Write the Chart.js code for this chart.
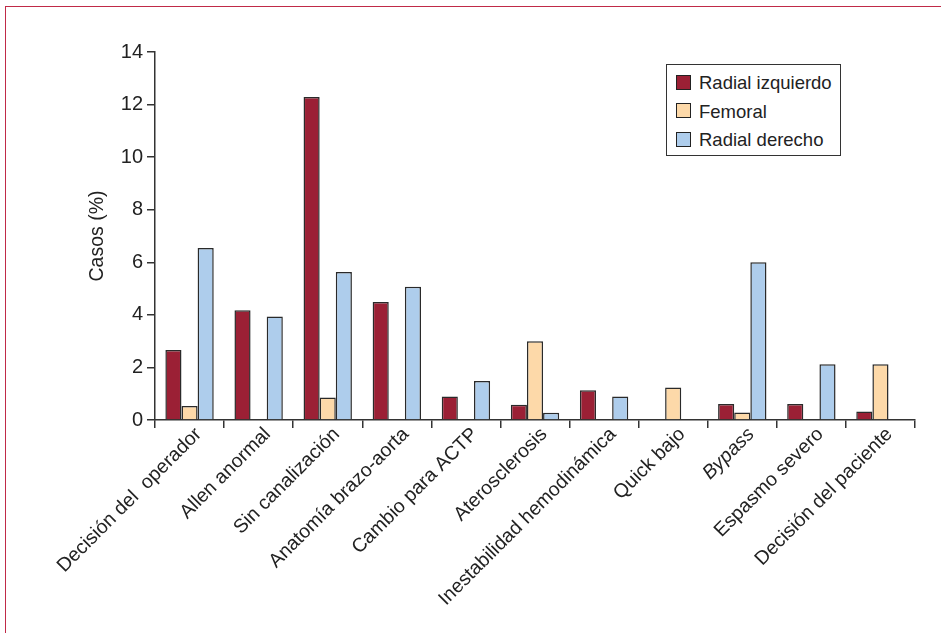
<!DOCTYPE html>
<html>
<head>
<meta charset="utf-8">
<script src="https://cdn.jsdelivr.net/npm/chart.js@4/dist/chart.umd.min.js"></script>
<style>
  html, body { margin: 0; padding: 0; background: #fff; }
  #wrap { position: relative; width: 941px; height: 633px; overflow: hidden; }
  #frame { position: absolute; left: 5px; top: 6px; width: 2000px; height: 2000px;
           border-left: 1.5px solid #c02a47; border-top: 1.5px solid #c02a47; }
  canvas { position: absolute; left: 0; top: 0; }
  #legend { position: absolute; left: 666px; top: 64px; width: 175px; height: 92px;
            border: 1px solid #333; box-sizing: border-box; background: #fff;
            font-family: "Liberation Sans", Arial, sans-serif; font-size: 18.5px; color: #222; }
  .item { position: absolute; left: 9px; height: 20px; line-height: 20px; white-space: nowrap; }
  .sw { display: inline-block; width: 13px; height: 13px; border: 1px solid #222;
        vertical-align: middle; margin-right: 8px; position: relative; top: -2px; }
</style>
</head>
<body>
<div id="wrap">
  <div id="frame"></div>
  <canvas id="c" width="941" height="633"></canvas>
  <div id="legend"></div>
</div>
<script>
const categories = ["Decisión del  operador", "Allen anormal", "Sin canalización", "Anatomía brazo-aorta",
  "Cambio para ACTP", "Aterosclerosis", "Inestabilidad hemodinámica", "Quick bajo", "Bypass",
  "Espasmo severo", "Decisión del paciente"];
const radialIzquierdo = [2.66, 4.18, 12.29, 4.49, 0.89, 0.58, 1.13, null, 0.61, 0.61, 0.32];
const femoral         = [0.53, null, 0.86, null, null, 3.0, null, 1.24, 0.29, null, 2.12];
const radialDerecho   = [6.54, 3.94, 5.63, 5.07, 1.48, 0.28, 0.89, null, 6.0, 2.12, null];
const seriesNames = ["Radial izquierdo", "Femoral", "Radial derecho"];
const seriesColors = ["#9b2035", "#fdd9a9", "#aecdec"];
const yTicks = [0, 2, 4, 6, 8, 10, 12, 14];

const font = "'Liberation Sans', Arial, sans-serif";
const textColor = "#222";
const axisColor = "#333";

const datasets = [radialIzquierdo, femoral, radialDerecho].map((d, i) => ({
  label: seriesNames[i], data: d, backgroundColor: seriesColors[i],
  borderColor: "#2a2a2a", borderWidth: 1.5, borderSkipped: "bottom",
  categoryPercentage: 0.7, barPercentage: 1.0
}));

new Chart(document.getElementById("c"), {
  type: "bar",
  data: { labels: categories, datasets },
  options: {
    responsive: false, animation: false,
    layout: { padding: { top: 52, right: 26, bottom: 0, left: 0 } },
    plugins: { legend: { display: false }, tooltip: { enabled: false } },
    scales: {
      x: {
        grid: { display: true, drawOnChartArea: false, drawTicks: true, tickLength: 8, offset: true,
                color: axisColor, lineWidth: 1.5 },
        border: { display: true, color: axisColor, width: 1.5 },
        ticks: {
          autoSkip: false, maxRotation: 45, minRotation: 45, color: textColor, padding: -5, labelOffset: 9,
          font: (ctx) => ({ family: font, size: 19.5, style: ctx.index === 8 ? "italic" : "normal" })
        },
        afterFit: (s) => { s.height = 213; }
      },
      y: {
        min: 0, max: 14,
        afterBuildTicks: (s) => { s.ticks = yTicks.map(v => ({ value: v })); },
        grid: { display: true, drawOnChartArea: false, drawTicks: true, tickLength: 8,
                color: axisColor, lineWidth: 1.5 },
        border: { display: true, color: axisColor, width: 1.5 },
        ticks: { color: textColor, padding: 4, font: { family: font, size: 20 } },
        title: { display: true, text: "Casos (%)", color: textColor, padding: { top: 86, bottom: 0 },
                 font: { family: font, size: 19.5 } },
        afterFit: (s) => { s.width = 155; }
      }
    }
  }
});

const lg = document.getElementById("legend");
seriesNames.forEach((n, i) => {
  const it = document.createElement("div");
  it.className = "item";
  it.style.top = (8 + i * 28.5) + "px";
  it.innerHTML = '<span class="sw" style="background:' + seriesColors[i] + '"></span>' + n;
  lg.appendChild(it);
});
</script>
</body>
</html>
